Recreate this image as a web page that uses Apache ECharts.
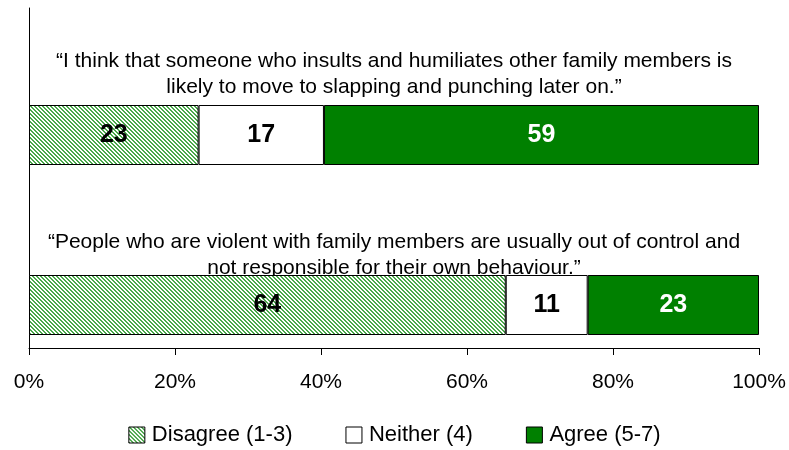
<!DOCTYPE html>
<html>
<head>
<meta charset="utf-8">
<script src="https://cdn.jsdelivr.net/npm/echarts@6/dist/echarts.min.js"></script>
<style>
  html, body { margin: 0; padding: 0; background: #fff; }
  #chart { width: 789px; height: 450px; }
</style>
</head>
<body>
<div id="chart"></div>
<script>
// statements shown above each bar
const categories = [
  "\u201cI think that someone who insults and humiliates other family members is\nlikely to move to slapping and punching later on.\u201d",
  "\u201cPeople who are violent with family members are usually out of control and\nnot responsible for their own behaviour.\u201d"
];
const seriesNames = ["Disagree (1-3)", "Neither (4)", "Agree (5-7)"];
const disagree = [23, 64];
const neither = [17, 11];
const agree = [59, 23];
const tickLabels = ["0%", "20%", "40%", "60%", "80%", "100%"];

const sans = '"Liberation Sans", Arial, sans-serif';

// bars are drawn as share of the row total (100% stacked)
const totals = disagree.map((v, i) => v + neither[i] + agree[i]);
const share = arr => arr.map((v, i) => v / totals[i] * 100);

// hatch fill for Disagree
function hatch() {
  const c = document.createElement("canvas");
  c.width = 4;
  c.height = 4;
  const ctx = c.getContext("2d");
  ctx.fillStyle = "#ffffff";
  ctx.fillRect(0, 0, 4, 4);
  ctx.fillStyle = "#4aa84a";
  for (let y = 0; y < 4; y++) {
    ctx.fillRect(y, y, 1, 1);
    ctx.fillRect((y + 1) % 4, y, 1, 1);
  }
  return { image: c, repeat: "repeat" };
}

const chart = echarts.init(document.getElementById("chart"));

function valueSeries(name, raw, color, labelColor) {
  return {
    name: name,
    type: "bar",
    stack: "total",
    barWidth: 60,
    barGap: "0%",
    data: share(raw),
    itemStyle: { color: color, borderColor: "#000", borderWidth: 1 },
    label: {
      show: true,
      position: "inside",
      color: labelColor,
      fontFamily: sans,
      fontWeight: "bold",
      fontSize: 25,
      formatter: p => raw[p.dataIndex]
    },
    emphasis: { disabled: true }
  };
}

const option = {
  animation: false,
  backgroundColor: "#fff",
  grid: { left: 29, right: 30, top: 8, bottom: 102, containLabel: false, outerBoundsMode: "none" },
  xAxis: {
    type: "value",
    min: 0,
    max: 100,
    interval: 20,
    splitLine: { show: false },
    axisLine: { show: true, lineStyle: { color: "#000", width: 1 } },
    axisTick: { show: true, length: 7, lineStyle: { color: "#000" } },
    axisLabel: {
      margin: 24,
      color: "#000",
      fontFamily: sans,
      fontSize: 21,
      formatter: v => tickLabels[v / 20]
    }
  },
  yAxis: {
    type: "category",
    inverse: true,
    data: categories,
    axisLine: { show: true, lineStyle: { color: "#000", width: 1 } },
    axisTick: { show: false },
    axisLabel: {
      inside: true,
      margin: 365,
      hideOverlap: false,
      align: "center",
      verticalAlign: "middle",
      // quote text plus an empty line that lifts it above the bar
      formatter: (v, i) => "{q|" + v + "}\n{s" + i + "| }",
      rich: {
        q: { align: "center", color: "#000", fontFamily: sans, fontSize: 21, lineHeight: 26 },
        s0: { align: "center", fontSize: 1, lineHeight: 38 },
        s1: { align: "center", fontSize: 1, lineHeight: 15 }
      }
    }
  },
  legend: {
    data: seriesNames,
    top: 419,
    left: "center",
    itemWidth: 16,
    itemHeight: 16,
    itemGap: 53,
    icon: "rect",
    textStyle: { color: "#000", fontFamily: sans, fontSize: 22, padding: [0, 0, 0, 2] },
    itemStyle: { borderColor: "#000", borderWidth: 1 }
  },
  series: [
    // empty spacer that pushes the bars to the lower part of each row
    {
      name: "spacer",
      type: "bar",
      stack: "spacer",
      barWidth: 84,
      barGap: "0%",
      data: [0, 0],
      silent: true,
      itemStyle: { color: "transparent" },
      label: { show: false }
    },
    valueSeries(seriesNames[0], disagree, hatch(), "#000"),
    valueSeries(seriesNames[1], neither, "#ffffff", "#000"),
    valueSeries(seriesNames[2], agree, "#008000", "#fff")
  ]
};

chart.setOption(option);
</script>
</body>
</html>
